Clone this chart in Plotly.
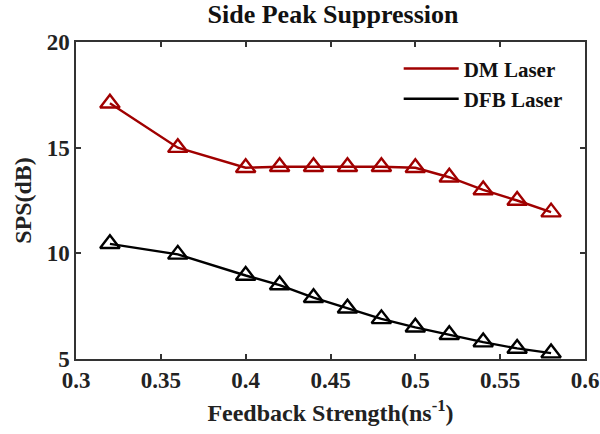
import plotly.graph_objects as go

# Feedback strength (ns^-1)
feedback = [0.32, 0.36, 0.40, 0.42, 0.44, 0.46, 0.48, 0.50, 0.52, 0.54, 0.56, 0.58]
# Side peak suppression (dB)
sps_dm = [17.1, 15.0, 14.05, 14.1, 14.1, 14.1, 14.1, 14.05, 13.6, 13.0, 12.5, 11.95]
sps_dfb = [10.45, 9.95, 8.95, 8.5, 7.9, 7.4, 6.9, 6.5, 6.15, 5.8, 5.5, 5.28]

x_ticks = [0.3, 0.35, 0.4, 0.45, 0.5, 0.55, 0.6]
x_tick_labels = ["0.3", "0.35", "0.4", "0.45", "0.5", "0.55", "0.6"]
y_ticks = [5, 10, 15, 20]
y_tick_labels = ["5", "10", "15", "20"]

RED = "#A00000"
BLACK = "#000000"
FONT = "Liberation Serif"

fig = go.Figure()
for name, vals, col in [("DM Laser", sps_dm, RED), ("DFB Laser", sps_dfb, BLACK)]:
    fig.add_trace(go.Scatter(
        x=feedback, y=vals, mode="lines+markers", name=name, showlegend=False,
        line=dict(color=col, width=2.4),
        marker=dict(symbol="triangle-up-open", size=17, color=col, line=dict(width=2.4, color=col)),
    ))
    # legend entry drawn as a plain line
    fig.add_trace(go.Scatter(
        x=[None], y=[None], mode="lines", name=f"<b>{name}</b>",
        line=dict(color=col, width=2.4),
    ))

axis_common = dict(
    showline=True, linecolor="#333333", linewidth=1.5, mirror="ticks",
    ticks="inside", ticklen=5, tickwidth=1.5, tickcolor="#333333",
    showgrid=False, zeroline=False, automargin=False,
    tickfont=dict(family=FONT, size=23, color="#222222", weight="bold"),
)

fig.update_layout(
    width=600, height=434,
    margin=dict(l=76, r=15, t=42, b=75),
    paper_bgcolor="white", plot_bgcolor="white",
    title=dict(text="<b>Side Peak Suppression</b>", x=0.555, xanchor="center", y=0.99, yanchor="top",
               font=dict(family=FONT, size=26, color="#111111"), automargin=False),
    xaxis=dict(range=[0.3, 0.6], tickvals=x_ticks,
               ticktext=[f"<b>{t}</b>" for t in x_tick_labels],
               title=dict(text="<b>Feedback Strength(ns<sup>-1</sup>)</b>", standoff=12,
                          font=dict(family=FONT, size=24, color="#222222")),
               **axis_common),
    yaxis=dict(range=[5, 20], tickvals=y_ticks,
               ticktext=[f"<b>{t}</b>" for t in y_tick_labels],
               title=dict(text="<b>SPS(dB)</b>", standoff=8,
                          font=dict(family=FONT, size=24, color="#222222")),
               **axis_common),
    legend=dict(x=0.966, y=0.98, xanchor="right", yanchor="top", bgcolor="rgba(0,0,0,0)",
                font=dict(family=FONT, size=21, color="#111111"),
                tracegroupgap=0, itemwidth=55),
)

fig.write_html("out.html")
